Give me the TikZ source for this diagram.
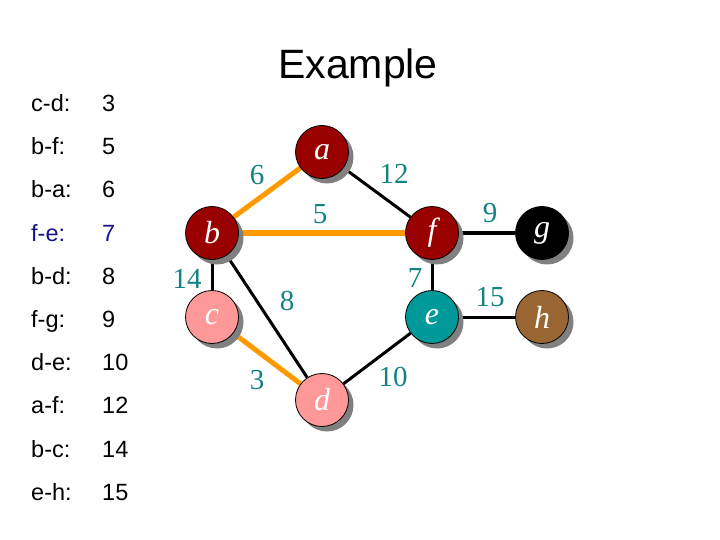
\documentclass[tikz,border=0pt]{standalone}
\usepackage{fontspec}
\setmainfont{Liberation Serif}
\newfontfamily\arialfont{Liberation Sans}
\usetikzlibrary{shadows,backgrounds}
\definecolor{darkred}{RGB}{153,0,0}
\definecolor{pinkn}{RGB}{255,153,153}
\definecolor{tealn}{RGB}{0,153,153}
\definecolor{brownn}{RGB}{153,102,51}
\definecolor{orangee}{RGB}{255,153,0}
\definecolor{labteal}{RGB}{20,130,130}
\definecolor{listblue}{RGB}{20,20,140}
\tikzset{
  vert/.style={circle, draw=black, line width=0.8pt, minimum size=53pt, inner sep=0pt,
    text=white, font=\fontsize{32}{32}\selectfont\itshape,
    drop shadow={shadow xshift=5pt, shadow yshift=-5pt, fill=black!50, opacity=1}},
  tree/.style={line width=5pt, draw=orangee},
  plain/.style={line width=3pt, draw=black},
  wlab/.style={text=labteal, font=\fontsize{29}{29}\selectfont, inner sep=0pt},
  listtxt/.style={anchor=base west, font=\arialfont\fontsize{23.5}{23.5}\selectfont, inner sep=0pt},
}
\begin{document}
\begin{tikzpicture}[x=1pt,y=-1pt]
\useasboundingbox (0,0) rectangle (720,540);
% title
\node[font=\arialfont\fontsize{41}{41}\selectfont, inner sep=0pt] (title) at (358,68) {Example};
% list
\foreach \n/\e/\w/\c [count=\i from 0] in {cd/c-d:/3/black, bf/b-f:/5/black, ba/b-a:/6/black, fe/f-e:/7/listblue, bd/b-d:/8/black, fg/f-g:/9/black, de/d-e:/10/black, af/a-f:/12/black, bc/b-c:/14/black, eh/e-h:/15/black}{
  \node[listtxt, text=\c] (l\n) at (31, {111.5+43.2*\i}) {\e};
  \node[listtxt, text=\c] (w\n) at (102, {111.5+43.2*\i}) {\w};
}
% vertices
\node[vert, fill=darkred] (a) at (322,152) {a};
\node[vert, fill=darkred] (b) at (212,233) {b};
\node[vert, fill=darkred] (f) at (432,233) {f};
\node[vert, fill=pinkn] (c) at (212,317) {c};
\node[vert, fill=tealn] (e) at (432,317) {e};
\node[vert, fill=pinkn] (d) at (322,400) {d};
\node[vert, fill=black] (g) at (542,233) {g};
\node[vert, fill=brownn] (h) at (542,317) {h};
% edges
\begin{scope}[on background layer]
\draw[tree] (b) -- (a);
\draw[tree] (b) -- (f);
\draw[tree] (c) -- (d);
\draw[plain] (a) -- (f);
\draw[plain] (b) -- (c);
\draw[plain] (b) -- (d);
\draw[plain] (f) -- (e);
\draw[plain] (d) -- (e);
\draw[plain] (f) -- (g);
\draw[plain] (e) -- (h);
\end{scope}
% weights
\node[wlab] (w6) at (257,175) {6};
\node[wlab] (w12) at (394,174) {12};
\node[wlab] (w5) at (320,214) {5};
\node[wlab] (w14) at (187,279) {14};
\node[wlab] (w8) at (287,301) {8};
\node[wlab] (w7) at (415,278) {7};
\node[wlab] (w3) at (257,380) {3};
\node[wlab] (w10) at (393,377) {10};
\node[wlab] (w9) at (490,213) {9};
\node[wlab] (w15) at (490,297) {15};
\end{tikzpicture}
\end{document}
